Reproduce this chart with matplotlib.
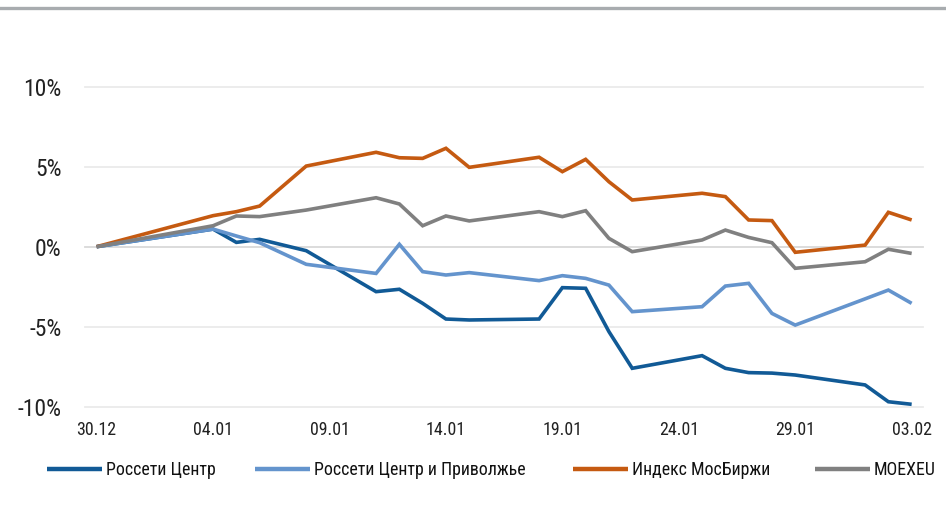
import matplotlib
matplotlib.use("Agg")
import matplotlib.pyplot as plt
import matplotlib.dates as mdates
from matplotlib import font_manager
from matplotlib.lines import Line2D
from matplotlib.ticker import FuncFormatter
import pandas as pd

# ---------------- data ----------------
dates = ['30.12.2020', '04.01.2021', '05.01.2021', '06.01.2021', '08.01.2021',
         '11.01.2021', '12.01.2021', '13.01.2021', '14.01.2021', '15.01.2021',
         '18.01.2021', '19.01.2021', '20.01.2021', '21.01.2021', '22.01.2021',
         '25.01.2021', '26.01.2021', '27.01.2021', '28.01.2021', '29.01.2021',
         '01.02.2021', '02.02.2021', '03.02.2021']

rosseti_center = [0, 1.1, 0.27, 0.46, -0.25, -2.81, -2.66, -3.54, -4.52, -4.58,
                  -4.52, -2.56, -2.6, -5.31, -7.6, -6.81, -7.6, -7.87, -7.9, -8.02,
                  -8.64, -9.69, -9.85]
rosseti_cip = [0, 1.1, 0.67, 0.25, -1.1, -1.67, 0.15, -1.56, -1.77, -1.62,
               -2.12, -1.81, -1.98, -2.4, -4.06, -3.75, -2.46, -2.29, -4.17, -4.9,
               -3.26, -2.71, -3.54]
moex_index = [0, 1.94, 2.19, 2.54, 5.04, 5.9, 5.56, 5.52, 6.15, 4.96,
              5.59, 4.69, 5.46, 4.06, 2.92, 3.34, 3.13, 1.67, 1.63, -0.35,
              0.1, 2.15, 1.67]
moexeu = [0, 1.31, 1.92, 1.88, 2.29, 3.06, 2.67, 1.31, 1.92, 1.61,
          2.19, 1.88, 2.25, 0.52, -0.31, 0.42, 1.04, 0.58, 0.25, -1.35,
          -0.94, -0.16, -0.42]

series_names = ['Россети Центр', 'Россети Центр и Приволжье', 'Индекс МосБиржи', 'MOEXEU']
series_values = [rosseti_center, rosseti_cip, moex_index, moexeu]
series_colors = ['#115A96', '#6494CD', '#C55A11', '#808080']

x_ticks = ['30.12.2020', '04.01.2021', '09.01.2021', '14.01.2021', '19.01.2021',
           '24.01.2021', '29.01.2021', '03.02.2021']
y_ticks = [-10, -5, 0, 5, 10]

# ---------------- font: prefer a condensed face ----------------
COND = {'ultra-condensed', 'extra-condensed', 'condensed', 'semi-condensed'}
pref = ['Liberation Sans Narrow', 'Roboto Condensed', 'DejaVu Sans Condensed',
        'Noto Sans Condensed', 'Open Sans Condensed', 'DejaVu Sans', 'Noto Sans',
        'Roboto', 'Open Sans']
fonts = font_manager.fontManager.ttflist
family, stretch = None, 'normal'
for cand in pref:
    cf = [f for f in fonts if f.name == cand and
          (f.stretch in COND or (isinstance(f.stretch, int) and f.stretch < 500)
           or 'Narrow' in cand or 'Condensed' in cand)]
    if cf:
        family = cand
        st = cf[0].stretch
        stretch = st if st in COND or isinstance(st, int) else 'normal'
        break
if family is None:
    family = 'Noto Sans' if any(f.name == 'Noto Sans' for f in fonts) else 'DejaVu Sans'
plt.rcParams['font.family'] = [family, 'DejaVu Sans']
plt.rcParams['font.stretch'] = stretch
plt.rcParams['axes.unicode_minus'] = False

W, H = 946, 532
fig = plt.figure(figsize=(W / 100, H / 100), dpi=100)
renderer = fig.canvas.get_renderer()


def fit_size(text, target_px, ref=20.0):
    t = fig.text(0, 0, text, fontsize=ref)
    w = t.get_window_extent(renderer).width
    t.remove()
    return ref * target_px / w


ysize = min(fit_size('10%', 38), 18)
xsize = min(fit_size('30.12', 40), 14)
lsize = min(fit_size('Россети Центр', 110), 15)

ax = fig.add_axes([85 / W, 1 - 406.7 / H, (923.3 - 85) / W, (406.7 - 86.7) / H])

x = pd.to_datetime(dates, format='%d.%m.%Y')
handles = []
for name, vals, col in zip(series_names, series_values, series_colors):
    ln, = ax.plot(x, vals, color=col, lw=2.6, solid_joinstyle='miter',
                  solid_capstyle='butt', label=name, zorder=3)
    handles.append(ln)

ax.set_xlim(x[0] - pd.Timedelta(hours=12), x[-1] + pd.Timedelta(hours=12))
ax.set_ylim(-10, 10)
ax.set_yticks(y_ticks)
ax.yaxis.set_major_formatter(FuncFormatter(lambda v, p: f"{v:.0f}%"))
xt = pd.to_datetime(x_ticks, format='%d.%m.%Y')
ax.set_xticks(xt)
ax.xaxis.set_major_formatter(mdates.DateFormatter('%d.%m'))

for s in ax.spines.values():
    s.set_visible(False)
ax.tick_params(axis='y', length=0, pad=23.3 * 0.72, labelsize=ysize, labelcolor='#222222')
ax.tick_params(axis='x', length=0, pad=10, labelsize=xsize, labelcolor='#222222')
for yv in y_ticks:
    ax.axhline(yv, color='#D9D9D9' if yv == 0 else '#EBEBEB', lw=1.3, zorder=1,
               clip_on=False)

# top rule
fig.add_artist(Line2D([0, 1], [1 - 7.5 / H] * 2, transform=fig.transFigure,
                      color='#A8ACAF', lw=2.4))

# legend entries
leg_x = [47, 255, 573, 815]
for h, lx in zip(handles, leg_x):
    proxy = Line2D([], [], color=h.get_color(), lw=3.2, solid_capstyle='butt')
    lg = fig.legend(handles=[proxy], labels=[h.get_label()], loc='center left',
                    bbox_to_anchor=(lx / W, 1 - 470 / H), frameon=False,
                    borderpad=0, borderaxespad=0, handlelength=55 / (lsize * 1.389),
                    handletextpad=4 / (lsize * 1.389), fontsize=lsize)
    for t in lg.get_texts():
        t.set_color('#111111')

fig.savefig('out.png', dpi=100, facecolor='white')
